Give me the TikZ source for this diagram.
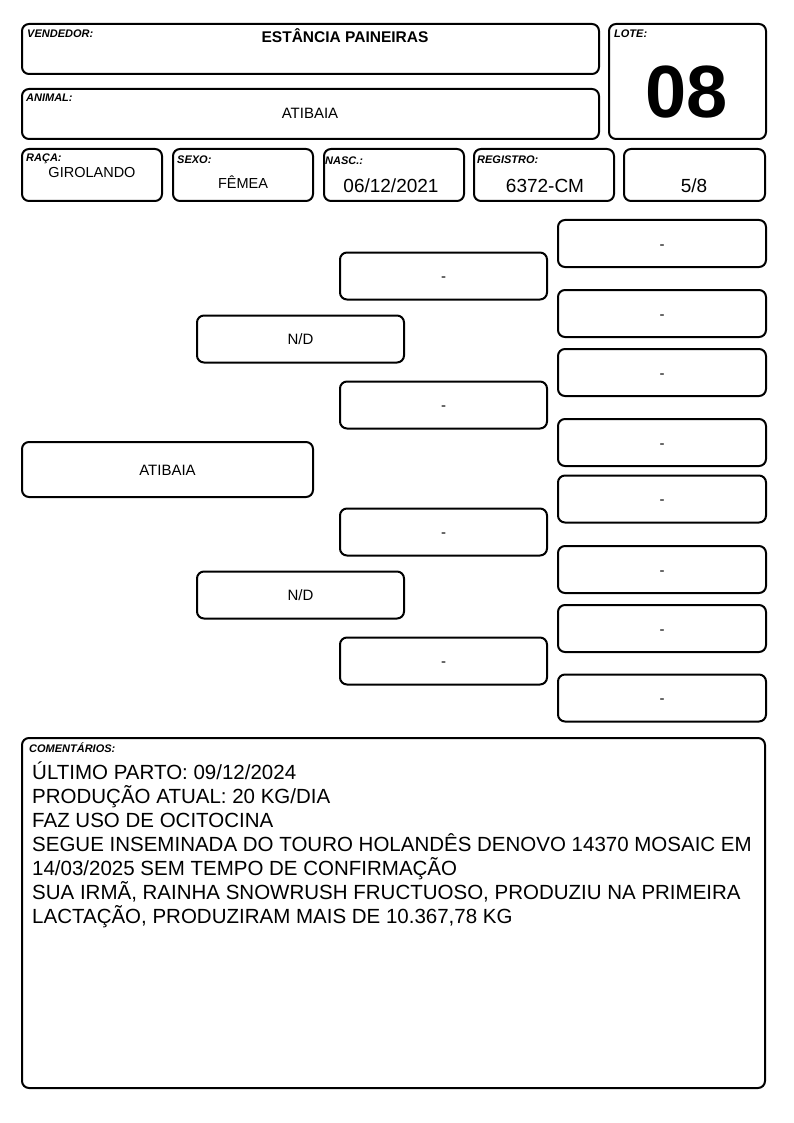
\documentclass[tikz,border=0pt]{standalone}
\usepackage{fontspec}
\setmainfont{Liberation Sans}
\usetikzlibrary{positioning}

\tikzset{
  caixa/.style={draw, line width=2pt, rounded corners=7pt, inner sep=0pt},
  rotulo/.style={inner sep=0pt, anchor=base west, font=\fontsize{11}{12}\selectfont\bfseries\itshape},
  valor/.style={inner sep=0pt, anchor=base, font=\fontsize{14.5}{17}\selectfont},
  valorg/.style={inner sep=0pt, anchor=base, font=\fontsize{19}{22}\selectfont},
  ped/.style={caixa, minimum width=207pt, minimum height=47pt, text height=11pt, text depth=0pt, font=\fontsize{15}{18}\selectfont},
}

\begin{document}
\begin{tikzpicture}[x=1pt, y=-1pt]
\useasboundingbox (0,0) rectangle (794,1123);

% cabecalho
\node[caixa, minimum width=577pt, minimum height=50pt] (vend) at (310.5,49) {};
\node[caixa, minimum width=577pt, minimum height=50pt] (animal) at (310.5,114) {};
\node[caixa, minimum width=157pt, minimum height=115pt] (lote) at (687.5,81.5) {};
\node[rotulo] (lvend) at ([shift={(6,15)}]vend.north west) {VENDEDOR:};
\node[rotulo] (lanimal) at ([shift={(5,14)}]animal.north west) {ANIMAL:};
\node[rotulo] (llote) at ([shift={(6,15)}]lote.north west) {LOTE:};
\node[valor, font=\fontsize{15.5}{18}\selectfont\bfseries] (tvend) at (345,43) {ESTÂNCIA PAINEIRAS};
\node[valor, font=\fontsize{15}{18}\selectfont] (tanimal) at (310,119) {ATIBAIA};
\node[valor, font=\fontsize{74}{80}\selectfont\bfseries] (tlote) at (687,118) {08};

% dados
\node[caixa, minimum width=140pt, minimum height=52pt] (raca) at (92,175) {};
\node[caixa, minimum width=140pt, minimum height=52pt] (sexo) at (243,175) {};
\node[caixa, minimum width=140pt, minimum height=52pt] (nasc) at (394,175) {};
\node[caixa, minimum width=140pt, minimum height=52pt] (reg) at (544,175) {};
\node[caixa, minimum width=141pt, minimum height=52pt] (grau) at (694.5,175) {};
\node[rotulo] (lraca) at ([shift={(5,14)}]raca.north west) {RAÇA:};
\node[rotulo] (lsexo) at ([shift={(5,16)}]sexo.north west) {SEXO:};
\node[rotulo] (lnasc) at ([shift={(2,17)}]nasc.north west) {NASC.:};
\node[rotulo] (lreg) at ([shift={(4,16)}]reg.north west) {REGISTRO:};
\node[valor] (traca) at (92,178) {GIROLANDO};
\node[valor] (tsexo) at (243,189) {FÊMEA};
\node[valorg] (tnasc) at (391,193) {06/12/2021};
\node[valorg] (treg) at (545,193) {6372-CM};
\node[valorg] (tgrau) at (694,193) {5/8};

% genealogia
\node[ped, minimum width=291pt, minimum height=55pt] (anim) at (167.5,469.5) {ATIBAIA};
\node[ped] (pai) at (300.5,339) {N/D};
\node[ped] (mae) at (300.5,595) {N/D};
\node[ped] (avo1) at (443.5,276) {-};
\node[ped] (avo2) at (443.5,405) {-};
\node[ped] (avo3) at (443.5,532) {-};
\node[ped] (avo4) at (443.5,661) {-};
\foreach \yb [count=\i] in {243.5,313.5,372.5,442.5,499,569.5,628.5,698}
  \node[ped, minimum width=208pt] (bis\i) at (662,\yb) {-};

% comentarios
\node[caixa, minimum width=743pt, minimum height=350pt] (coment) at (393.5,913) {};
\node[rotulo] (lcoment) at ([shift={(8,15)}]coment.north west) {COMENTÁRIOS:};
\node[inner sep=0pt, anchor=north west, align=left, font=\fontsize{20.5}{24}\selectfont] (tcoment) at (32,762)
  {ÚLTIMO PARTO: 09/12/2024\\
   PRODUÇÃO ATUAL: 20 KG/DIA\\
   FAZ USO DE OCITOCINA\\
   SEGUE INSEMINADA DO TOURO HOLANDÊS DENOVO 14370 MOSAIC EM\\
   14/03/2025 SEM TEMPO DE CONFIRMAÇÃO\\
   SUA IRMÃ, RAINHA SNOWRUSH FRUCTUOSO, PRODUZIU NA PRIMEIRA\\
   LACTAÇÃO, PRODUZIRAM MAIS DE 10.367,78 KG};
\end{tikzpicture}
\end{document}
